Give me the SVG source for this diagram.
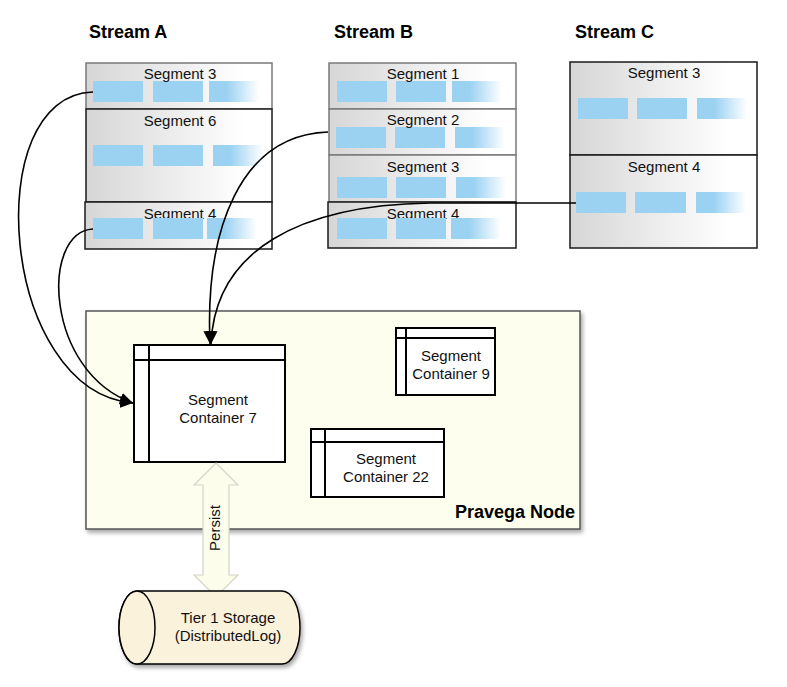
<svg xmlns="http://www.w3.org/2000/svg" width="787" height="687" viewBox="0 0 787 687">
<defs>
  <linearGradient id="segGrad" x1="0" y1="0" x2="1" y2="0">
    <stop offset="0" stop-color="#d6d6d6"/>
    <stop offset="0.85" stop-color="#ffffff"/>
  </linearGradient>
  <linearGradient id="fadeGrad" x1="0" y1="0" x2="1" y2="0">
    <stop offset="0.35" stop-color="#9bd2f2" stop-opacity="1"/>
    <stop offset="1" stop-color="#9bd2f2" stop-opacity="0"/>
  </linearGradient>
  <filter id="shadow" x="-10%" y="-10%" width="125%" height="130%">
    <feDropShadow dx="2" dy="3" stdDeviation="2" flood-color="#000" flood-opacity="0.35"/>
  </filter>
  <marker id="arrow" markerUnits="userSpaceOnUse" markerWidth="14" markerHeight="12" refX="13" refY="6" orient="auto">
    <path d="M0,0 L13,6 L0,12 z" fill="#000"/>
  </marker>
  <style>
    .hdr{font-family:"Liberation Sans",Arial,sans-serif;font-size:18px;font-weight:bold;fill:#000}
    .lbl{font-family:"Liberation Sans",Arial,sans-serif;font-size:15px;fill:#111;text-anchor:middle}
    .seg{fill:url(#segGrad);stroke-width:1.5}
    .gray{stroke:#7a7a7a}
    .dark{stroke:#1a1a1a}
    .blk{fill:#9bd2f2}
    .fade{fill:url(#fadeGrad)}
    .cont{fill:#fff;stroke:#000;stroke-width:2}
    .cline{stroke:#000;stroke-width:2;fill:none}
    .conn{fill:none;stroke:#000;stroke-width:1.6}
  </style>
</defs>
<rect width="787" height="687" fill="#fff"/>

<text class="hdr" x="89" y="38">Stream A</text>
<text class="hdr" x="334" y="38">Stream B</text>
<text class="hdr" x="575" y="38">Stream C</text>

<!-- Stream A -->
<g id="streamA-seg3">
  <rect class="seg gray" x="86" y="63" width="186" height="46"/>
  <rect class="blk" x="93" y="81" width="50" height="21"/>
  <rect class="blk" x="153" y="81" width="50" height="21"/>
  <rect class="fade" x="209" y="81" width="50" height="21"/>
  <text class="lbl" x="180" y="79">Segment 3</text>
</g>
<g id="streamA-seg6">
  <rect class="seg dark" x="86" y="109" width="186" height="93"/>
  <rect class="blk" x="93" y="145" width="50" height="21"/>
  <rect class="blk" x="153" y="145" width="50" height="21"/>
  <rect class="fade" x="213" y="145" width="50" height="21"/>
  <text class="lbl" x="180" y="126">Segment 6</text>
</g>
<g id="streamA-seg4">
  <rect class="seg dark" x="85" y="202" width="187" height="47"/>
  <text class="lbl" x="180" y="219">Segment 4</text>
  <rect class="blk" x="93" y="218" width="50" height="21"/>
  <rect class="blk" x="153" y="218" width="50" height="21"/>
  <rect class="fade" x="207" y="218" width="50" height="21"/>
</g>

<!-- Stream B -->
<g id="streamB-seg1">
  <rect class="seg gray" x="329" y="63" width="187" height="46"/>
  <rect class="blk" x="337" y="81" width="50" height="21"/>
  <rect class="blk" x="396" y="81" width="50" height="21"/>
  <rect class="fade" x="452" y="81" width="50" height="21"/>
  <text class="lbl" x="423" y="79">Segment 1</text>
</g>
<g id="streamB-seg2">
  <rect class="seg gray" x="329" y="109" width="187" height="46"/>
  <rect class="blk" x="336" y="127" width="50" height="21"/>
  <rect class="blk" x="395" y="127" width="50" height="21"/>
  <rect class="fade" x="455" y="127" width="50" height="21"/>
  <text class="lbl" x="423" y="125">Segment 2</text>
</g>
<g id="streamB-seg3">
  <rect class="seg gray" x="329" y="155" width="187" height="47"/>
  <rect class="blk" x="337" y="177" width="50" height="21"/>
  <rect class="blk" x="396" y="177" width="50" height="21"/>
  <rect class="fade" x="456" y="177" width="50" height="21"/>
  <text class="lbl" x="423" y="172">Segment 3</text>
</g>
<g id="streamB-seg4">
  <rect class="seg dark" x="328" y="202" width="188" height="46"/>
  <text class="lbl" x="423" y="219">Segment 4</text>
  <rect class="blk" x="337" y="218" width="50" height="21"/>
  <rect class="blk" x="396" y="218" width="50" height="21"/>
  <rect class="fade" x="451" y="218" width="50" height="21"/>
</g>

<!-- Stream C -->
<g id="streamC-seg3">
  <rect class="seg dark" x="570" y="62" width="187" height="93"/>
  <rect class="blk" x="578" y="98" width="50" height="21"/>
  <rect class="blk" x="637" y="98" width="50" height="21"/>
  <rect class="fade" x="697" y="98" width="50" height="21"/>
  <text class="lbl" x="664" y="78">Segment 3</text>
</g>
<g id="streamC-seg4">
  <rect class="seg dark" x="570" y="155" width="187" height="93"/>
  <rect class="blk" x="576" y="192" width="50" height="21"/>
  <rect class="blk" x="635" y="192" width="51" height="21"/>
  <rect class="fade" x="696" y="192" width="50" height="21"/>
  <text class="lbl" x="664" y="172">Segment 4</text>
</g>

<!-- Pravega Node -->
<g id="pravega-node">
  <rect x="86" y="311" width="494" height="218" fill="#fefeee" stroke="#555" stroke-width="1.5" filter="url(#shadow)"/>
  <text class="hdr" x="575" y="518" text-anchor="end">Pravega Node</text>
</g>

<g id="container7">
  <rect class="cont" x="134" y="345" width="151" height="117"/>
  <path class="cline" d="M134,360 H285 M149,345 V462"/>
  <text class="lbl" x="218" y="405">Segment</text>
  <text class="lbl" x="218" y="423">Container 7</text>
</g>
<g id="container9">
  <rect class="cont" x="396" y="328" width="99" height="67"/>
  <path class="cline" d="M396,338 H495 M406,328 V395"/>
  <text class="lbl" x="451" y="361">Segment</text>
  <text class="lbl" x="451" y="379">Container 9</text>
</g>
<g id="container22">
  <rect class="cont" x="311" y="429" width="133" height="68"/>
  <path class="cline" d="M311,442 H444 M325,429 V497"/>
  <text class="lbl" x="386" y="464">Segment</text>
  <text class="lbl" x="386" y="482">Container 22</text>
</g>

<!-- Persist arrow -->
<g id="persist">
  <polygon points="216,463 238,485 229,485 229,575 238,575 216,597 194,575 203,575 203,485 194,485" fill="#fdfdec" stroke="#d4d4c8" stroke-width="1.2"/>
  <text class="lbl" x="0" y="0" transform="translate(220,528) rotate(-90)">Persist</text>
</g>

<!-- Tier 1 Storage -->
<g id="tier1-storage">
  <path d="M137,591 L282,591 A18,36.5 0 0 1 282,664 L137,664 A18,36.5 0 0 1 137,591 Z" fill="#fbf2dc" stroke="#000" stroke-width="1.5" filter="url(#shadow)"/>
  <ellipse cx="137" cy="627.5" rx="18" ry="36.5" fill="#fbf2dc" stroke="#000" stroke-width="1.5"/>
  <text class="lbl" x="228" y="623">Tier 1 Storage</text>
  <text class="lbl" x="228" y="641">(DistributedLog)</text>
</g>

<!-- Connectors -->
<g id="connectors">
  <path class="conn" d="M93,92 C-22,95 0,392 133,403" marker-end="url(#arrow)"/>
  <path class="conn" d="M93,229 C40,232 45,372 133,403" marker-end="url(#arrow)"/>
  <path class="conn" d="M328,132 C240,135 205,230 210,344" marker-end="url(#arrow)"/>
  <path class="conn" d="M576,203 L430,203 C300,205 215,250 211,344" marker-end="url(#arrow)"/>
</g>
</svg>
